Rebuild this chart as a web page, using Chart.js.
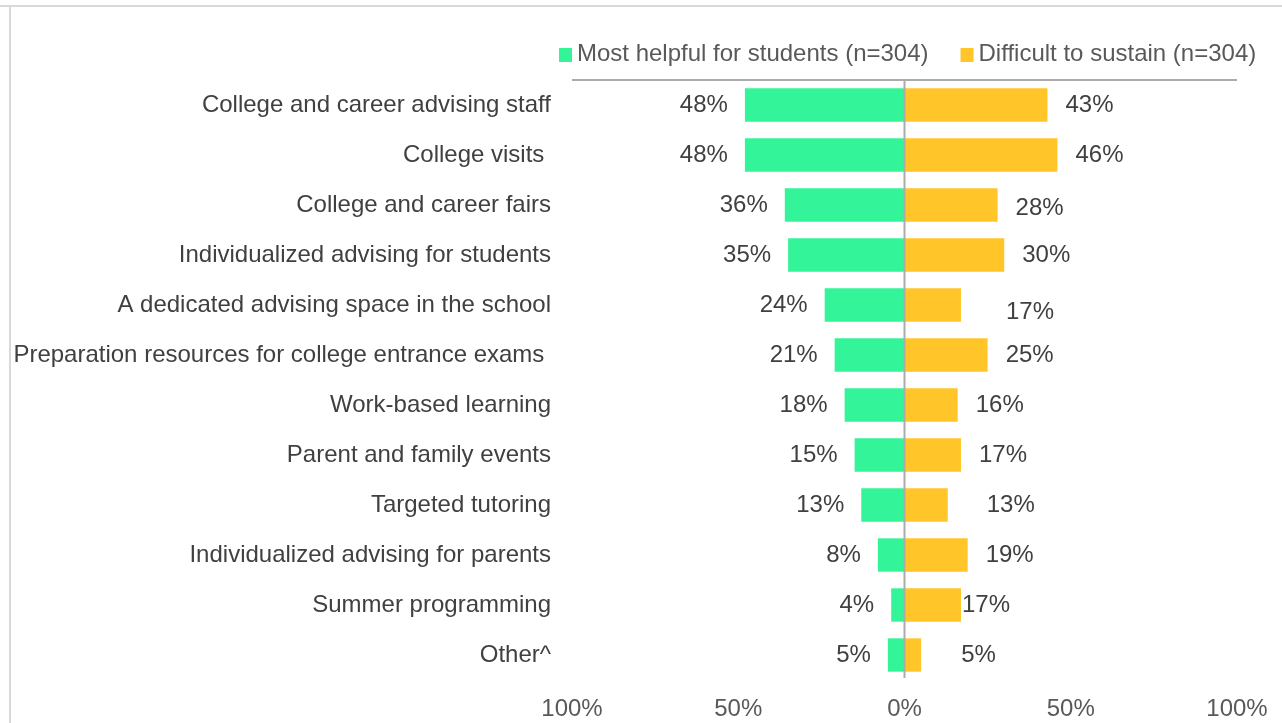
<!DOCTYPE html>
<html>
<head>
<meta charset="utf-8">
<script src="https://cdn.jsdelivr.net/npm/chart.js@4"></script>
<style>
  html, body { margin: 0; padding: 0; background: #fff; }
  body { width: 1282px; height: 723px; position: relative; overflow: hidden; }
  .frame-top { position: absolute; left: 0; top: 5px; width: 1282px; height: 2px; background: #d9d9d9; }
  .frame-left { position: absolute; left: 9px; top: 5px; width: 2px; height: 718px; background: #d9d9d9; }
  #chart { position: absolute; left: 0; top: 0; }
</style>
</head>
<body>
<div class="frame-top"></div>
<div class="frame-left"></div>
<canvas id="chart" width="1282" height="723"></canvas>
<script>
const categories = [
  'College and career advising staff',
  'College visits ',
  'College and career fairs',
  'Individualized advising for students',
  'A dedicated advising space in the school',
  'Preparation resources for college entrance exams ',
  'Work-based learning',
  'Parent and family events',
  'Targeted tutoring',
  'Individualized advising for parents',
  'Summer programming',
  'Other^'
]
const helpful = [48, 48, 36, 35, 24, 21, 18, 15, 13, 8, 4, 5]
const sustain = [43, 46, 28, 30, 17, 25, 16, 17, 13, 19, 17, 5]
const seriesNames = ['Most helpful for students (n=304)', 'Difficult to sustain (n=304)']
const xTicks = [-1, -0.5, 0, 0.5, 1]

const FONT = '"Liberation Sans", Arial, sans-serif'
const GREEN = '#33f499'
const GOLD = '#ffc529'
const AXIS_GRAY = '#ababab'

// a few value labels were moved by hand in the original workbook
const labelNudge = {
  '1-4': [27, 7],
  '1-8': [21, 0],
  '1-10': [-17, 0],
  '1-11': [22, 0],
  '1-2': [0, 3]
}

const axisLines = {
  id: 'axisLines',
  afterDatasetsDraw(chart) {
    const { ctx, chartArea, scales } = chart
    const x0 = scales.x.getPixelForValue(0)
    ctx.save()
    ctx.strokeStyle = AXIS_GRAY
    ctx.lineWidth = 2
    ctx.beginPath()
    ctx.moveTo(scales.x.getPixelForValue(-1), chartArea.top)
    ctx.lineTo(scales.x.getPixelForValue(1), chartArea.top)
    ctx.moveTo(x0, chartArea.top)
    ctx.lineTo(x0, chartArea.bottom - 2)
    ctx.stroke()
    ctx.restore()
  }
}

const valueLabels = {
  id: 'valueLabels',
  afterDatasetsDraw(chart) {
    const { ctx } = chart
    const values = [helpful, sustain]
    ctx.save()
    ctx.font = '24px ' + FONT
    ctx.fillStyle = '#404040'
    ctx.textBaseline = 'middle'
    chart.data.datasets.forEach((ds, i) => {
      chart.getDatasetMeta(i).data.forEach((bar, j) => {
        const n = labelNudge[i + '-' + j] || [0, 0]
        if (i === 0) {
          ctx.textAlign = 'right'
          ctx.fillText(values[i][j] + '%', bar.x - 17 + n[0], bar.y + n[1])
        } else {
          ctx.textAlign = 'left'
          ctx.fillText(values[i][j] + '%', bar.x + 18 + n[0], bar.y + n[1])
        }
      })
    })
    ctx.restore()
  }
}

const legendRow = {
  id: 'legendRow',
  afterDraw(chart) {
    const { ctx } = chart
    ctx.save()
    ctx.font = '24px ' + FONT
    ctx.textBaseline = 'middle'
    ctx.textAlign = 'left'
    let x = 559
    chart.data.datasets.forEach(ds => {
      ctx.fillStyle = ds.backgroundColor
      ctx.fillRect(x, 48, 13, 14)
      ctx.fillStyle = '#595959'
      ctx.fillText(ds.label, x + 18, 54)
      x += 18 + ctx.measureText(ds.label).width + 32
    })
    ctx.restore()
  }
}

new Chart(document.getElementById('chart'), {
  type: 'bar',
  data: {
    labels: categories,
    datasets: [{
      label: seriesNames[0],
      data: helpful.map(v => -v / 100),
      backgroundColor: GREEN,
      barPercentage: 0.667,
      categoryPercentage: 1
    }, {
      label: seriesNames[1],
      data: sustain.map(v => v / 100),
      backgroundColor: GOLD,
      barPercentage: 0.667,
      categoryPercentage: 1
    }]
  },
  options: {
    indexAxis: 'y',
    responsive: false,
    animation: false,
    devicePixelRatio: 1,
    layout: { padding: { top: 80, right: 45, bottom: 0, left: 0 } },
    plugins: {
      legend: { display: false },
      tooltip: { enabled: false }
    },
    scales: {
      x: {
        stacked: true,
        min: -1,
        max: 1,
        afterBuildTicks: s => { s.ticks = xTicks.map(v => ({ value: v })) },
        afterFit: s => { s.height = 43 },
        grid: { display: false },
        border: { display: false },
        ticks: {
          callback: v => Math.round(Math.abs(v) * 100) + '%',
          font: { family: FONT, size: 24 },
          color: '#595959',
          padding: 7,
          maxRotation: 0
        }
      },
      y: {
        stacked: true,
        afterFit: s => { s.width = 572 },
        grid: { display: false, drawTicks: false },
        border: { display: false },
        ticks: {
          font: { family: FONT, size: 24 },
          color: '#404040',
          padding: 21,
          autoSkip: false
        }
      }
    }
  },
  plugins: [axisLines, valueLabels, legendRow]
})
</script>
</body>
</html>
